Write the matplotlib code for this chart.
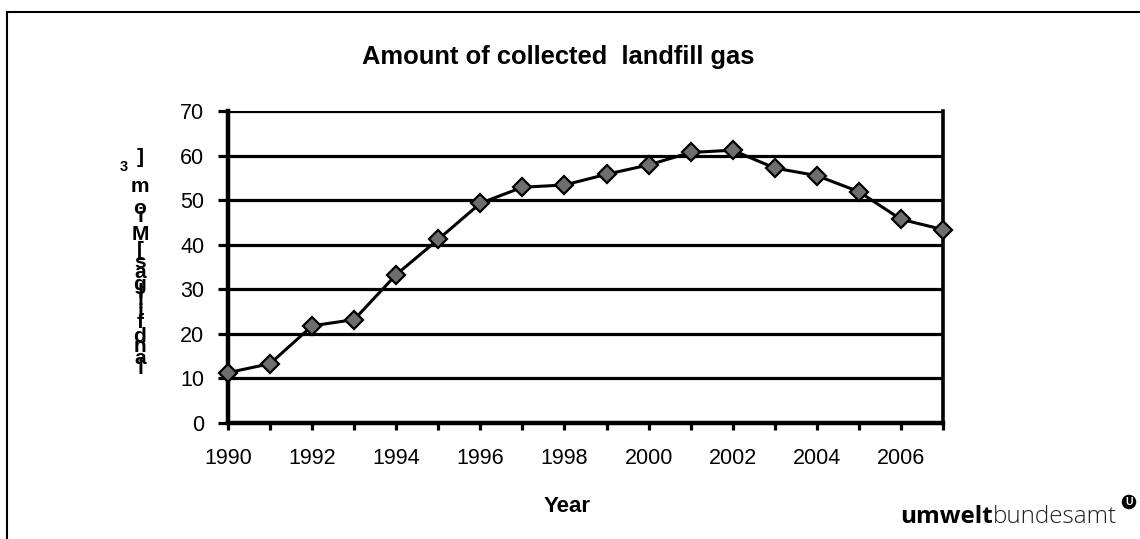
import matplotlib.pyplot as plt
from matplotlib.patches import Rectangle

plt.rcParams['font.family'] = ['Liberation Sans', 'DejaVu Sans']

years = [1990, 1991, 1992, 1993, 1994, 1995, 1996, 1997, 1998, 1999,
         2000, 2001, 2002, 2003, 2004, 2005, 2006, 2007]
gas = [11.3, 13.3, 21.8, 23.2, 33.3, 41.2, 49.3, 52.9, 53.4, 55.8,
       57.9, 60.7, 61.2, 57.2, 55.5, 51.9, 45.7, 43.4]
y_ticks = [0, 10, 20, 30, 40, 50, 60, 70]
x_labels = [1990, 1992, 1994, 1996, 1998, 2000, 2002, 2004, 2006]
title = 'Amount of collected  landfill gas'
x_title = 'Year'
# y label characters as they are stacked in the original, bottom to top
y_label_chars = ['l', 'a', 'n', 'd', 'f', 'i', 'l', 'l', 'g', 'a', 's',
                 '[', 'M', 'i', 'o', 'm', '3', ']']
y_label_pos = [368, 358, 347, 336, 323, 313, 302, 292, 284, 272, 262,
               250, 235, 216, 209, 187, 167, 157]

W, H = 1140, 539
fig = plt.figure(figsize=(W / 100, H / 100), dpi=100)
ax = fig.add_axes([228 / W, 1 - 423 / H, (943 - 228) / W, (423 - 111) / H])

for v in y_ticks[1:]:
    ax.axhline(v, color='black', lw=2.3, zorder=1)

ax.plot(years, gas, color='black', lw=2.2, marker='D', markersize=9.5,
        markerfacecolor='#6e6e6e', markeredgecolor='black', markeredgewidth=1.6,
        clip_on=False, zorder=3)

ax.set_xlim(1990, 2007)
ax.set_ylim(0, 70)
ax.set_yticks(y_ticks)
ax.set_xticks(years)
ax.set_xticklabels([str(y) if y in x_labels else '' for y in years])
ax.tick_params(axis='both', direction='out', width=2.3, labelsize=15.5)
ax.tick_params(axis='x', length=5, pad=13)
ax.tick_params(axis='y', length=7, pad=10)
ax.spines['top'].set_visible(False)
for s in ['left', 'bottom']:
    ax.spines[s].set_linewidth(3.2)
ax.spines['right'].set_linewidth(2.6)

fig.text(567 / W, 1 - 506 / H, x_title, ha='center', va='center',
         fontsize=16, fontweight='bold')
fig.text(558 / W, 1 - 57 / H, title, ha='center', va='center',
         fontsize=18.4, fontweight='bold')

for ch, yp in zip(y_label_chars, y_label_pos):
    if ch == '3':
        fig.text(124 / W, 1 - yp / H, ch, ha='center', va='center',
                 fontsize=10.5, fontweight='bold')
    else:
        fig.text(140 / W, 1 - yp / H, ch, ha='center', va='center',
                 fontsize=15, fontweight='bold')

# logo
fig.text(993 / W, 1 - 523 / H, 'umwelt', ha='right', va='baseline', fontsize=17.5,
         fontweight='bold', family='Open Sans')
fig.text(993 / W, 1 - 523 / H, 'bundesamt', ha='left', va='baseline', fontsize=17.5,
         fontweight='light', family='Open Sans', color='#222222')
fig.text(1129 / W, 1 - 502 / H, 'U', ha='center', va='center', fontsize=7.5,
         fontweight='bold', color='white',
         bbox=dict(boxstyle='circle,pad=0.15', fc='black', ec='black'))

fig.patches.append(Rectangle((7 / W, -0.05), 1.1, 1.05 - 12 / H,
                             transform=fig.transFigure, fill=False, ec='black', lw=1.5))

fig.savefig('out.png', dpi=100)
